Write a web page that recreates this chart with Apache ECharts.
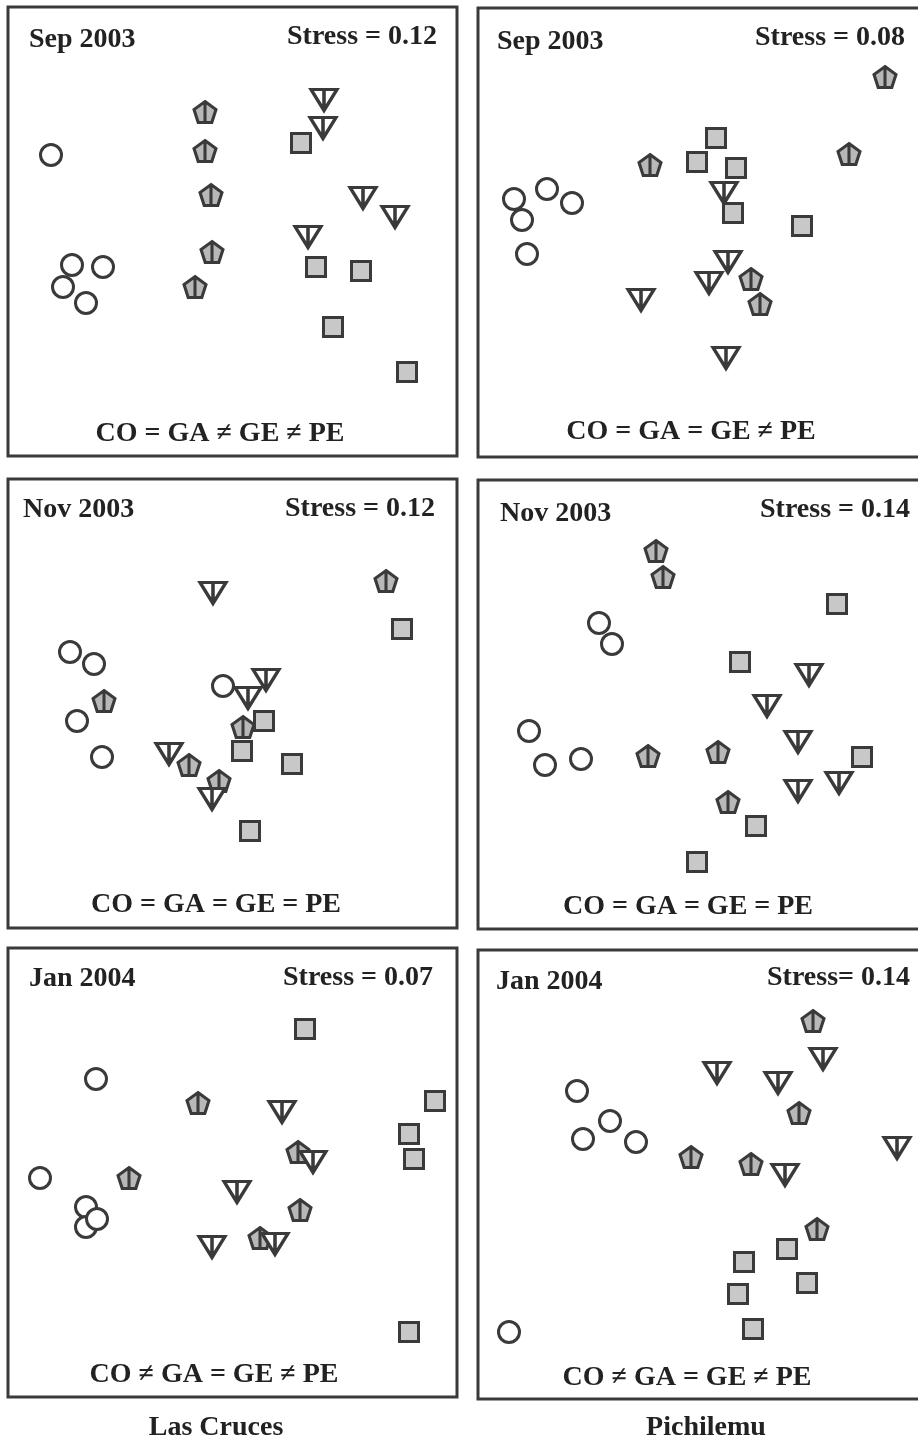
<!DOCTYPE html>
<html><head><meta charset="utf-8">
<script src="https://cdn.jsdelivr.net/npm/echarts@6/dist/echarts.min.js"></script>
<style>html,body{margin:0;padding:0;background:#fff;overflow:hidden}#c{width:932px;height:1440px}</style>
</head><body><div id="c"></div><script>
// NMDS ordination coordinates (panel units, x right, y down)
// Las Cruces, Sep 2003
const lcSepCircles   = [[43,148],[64,258],[95,260],[55,280],[78,296]];
const lcSepPentagons = [[197,105],[197,144],[203,188],[204,245],[187,280]];
const lcSepTriangles = [[316,93],[315,121],[355,191],[387,210],[300,230]];
const lcSepSquares   = [[293,136],[308,260],[353,264],[325,320],[399,365]];
// Pichilemu, Sep 2003
const piSepCircles   = [[36,191],[69,181],[94,195],[44,212],[49,246]];
const piSepPentagons = [[407,69],[371,146],[172,157],[273,271],[282,296]];
const piSepTriangles = [[246,185],[250,254],[231,275],[163,292],[248,350]];
const piSepSquares   = [[238,130],[219,154],[258,160],[255,205],[324,218]];
// Las Cruces, Nov 2003
const lcNovCircles   = [[62,173],[86,185],[69,242],[94,278],[215,207]];
const lcNovPentagons = [[378,102],[96,222],[235,248],[181,286],[211,302]];
const lcNovTriangles = [[205,114],[258,201],[240,219],[161,275],[204,320]];
const lcNovSquares   = [[394,150],[256,242],[234,272],[284,285],[242,352]];
// Pichilemu, Nov 2003
const piNovCircles   = [[121,143],[134,164],[51,251],[67,285],[103,279]];
const piNovPentagons = [[178,71],[185,97],[170,276],[240,272],[250,322]];
const piNovTriangles = [[331,195],[289,226],[320,262],[361,303],[320,311]];
const piNovSquares   = [[359,124],[262,182],[384,277],[278,346],[219,382]];
// Las Cruces, Jan 2004
const lcJanCircles   = [[88,131],[32,230],[78,259],[78,279],[89,271]];
const lcJanPentagons = [[190,155],[121,230],[290,204],[292,262],[252,290]];
const lcJanTriangles = [[274,164],[305,214],[229,244],[204,299],[267,296]];
const lcJanSquares   = [[297,81],[427,153],[401,186],[406,211],[401,384]];
// Pichilemu, Jan 2004
const piJanCircles   = [[99,141],[132,171],[105,189],[158,192],[31,382]];
const piJanPentagons = [[335,71],[321,163],[213,207],[273,214],[339,279]];
const piJanTriangles = [[239,123],[345,109],[300,133],[307,225],[419,198]];
const piJanSquares   = [[309,299],[266,312],[329,333],[260,344],[275,379]];

const dateLabels   = ['Sep 2003','Sep 2003','Nov 2003','Nov 2003','Jan 2004','Jan 2004'];
const stressLabels = ['Stress = 0.12','Stress = 0.08','Stress = 0.12','Stress = 0.14','Stress = 0.07','Stress= 0.14'];
const testLabels   = ['CO = GA \u2260 GE \u2260 PE','CO = GA = GE \u2260 PE','CO = GA = GE = PE','CO = GA = GE = PE','CO \u2260 GA = GE \u2260 PE','CO \u2260 GA = GE \u2260 PE'];
const siteLabels   = ['Las Cruces','Pichilemu'];

const panelData = [
  [lcSepCircles, lcSepPentagons, lcSepTriangles, lcSepSquares],
  [piSepCircles, piSepPentagons, piSepTriangles, piSepSquares],
  [lcNovCircles, lcNovPentagons, lcNovTriangles, lcNovSquares],
  [piNovCircles, piNovPentagons, piNovTriangles, piNovSquares],
  [lcJanCircles, lcJanPentagons, lcJanTriangles, lcJanSquares],
  [piJanCircles, piJanPentagons, piJanTriangles, piJanSquares]
];

// layout (pixels)
const PW = 449, PH = 449;
const layout = [
  {left:8,   top:7,   dx:21, dy:33, sx:429, sy:30, tx:212, ty:427},
  {left:478, top:8,   dx:19, dy:34, sx:427, sy:30, tx:213, ty:424},
  {left:8,   top:479, dx:15, dy:31, sx:427, sy:30, tx:208, ty:426},
  {left:478, top:480, dx:22, dy:34, sx:432, sy:30, tx:210, ty:427},
  {left:8,   top:948, dx:21, dy:31, sx:425, sy:30, tx:206, ty:427},
  {left:478, top:950, dx:18, dy:32, sx:432, sy:28, tx:209, ty:428}
];

const INK = '#3a3a3a';
const FONT = '"Liberation Serif","Times New Roman",serif';
const pentPath = 'path://M50,0 L100,36.3 L80.9,95.1 L19.1,95.1 L0,36.3 Z M50,0 L50,95.1';
const triPath  = 'path://M0,0 L100,0 L50,86 Z M50,0 L50,86';
const styles = [
  {name:'CO', symbol:'circle', size:21, item:{color:'#ffffff', borderColor:INK, borderWidth:3, opacity:1}},
  {name:'GA', symbol:pentPath, size:[22,21], item:{color:'#b8b8b8', borderColor:INK, borderWidth:3, opacity:1}},
  {name:'GE', symbol:triPath,  size:[26,21], item:{color:'#ffffff', borderColor:INK, borderWidth:3.2, opacity:1}},
  {name:'PE', symbol:'rect',   size:19, item:{color:'#c8c8c8', borderColor:INK, borderWidth:3, opacity:1}}
];

const grid = [], xAxis = [], yAxis = [], series = [], graphic = [];
layout.forEach((L, i) => {
  grid.push({left:L.left, top:L.top, width:PW, height:PH, show:true,
             borderColor:INK, borderWidth:3, backgroundColor:'transparent', containLabel:false});
  xAxis.push({type:'value', gridIndex:i, min:0, max:PW, show:false});
  yAxis.push({type:'value', gridIndex:i, min:0, max:PH, inverse:true, show:false});
  [3,1,2,0].forEach(g => {
    const s = styles[g];
    series.push({type:'scatter', name:s.name, xAxisIndex:i, yAxisIndex:i,
      symbol:s.symbol, symbolSize:s.size, symbolKeepAspect:false,
      itemStyle:s.item, emphasis:{disabled:true}, silent:true,
      data:panelData[i][g]});
  });
  const tstyle = {fill:'#222', font:'bold 28px ' + FONT, textVerticalAlign:'middle'};
  graphic.push({type:'text', x:L.left + L.dx, y:L.top + L.dy,
    style:Object.assign({text:dateLabels[i], textAlign:'left'}, tstyle)});
  graphic.push({type:'text', x:L.left + L.sx, y:L.top + L.sy,
    style:Object.assign({text:stressLabels[i], textAlign:'right'}, tstyle)});
  graphic.push({type:'text', x:L.left + L.tx, y:L.top + L.ty,
    style:Object.assign({text:testLabels[i], textAlign:'center'}, tstyle)});
});
graphic.push({type:'text', x:216, y:1428,
  style:{text:siteLabels[0], textAlign:'center', textVerticalAlign:'middle', fill:'#222', font:'bold 28px ' + FONT}});
graphic.push({type:'text', x:706, y:1428,
  style:{text:siteLabels[1], textAlign:'center', textVerticalAlign:'middle', fill:'#222', font:'bold 28px ' + FONT}});

const chart = echarts.init(document.getElementById('c'), null, {renderer:'canvas'});
chart.setOption({animation:false, backgroundColor:'#ffffff', grid, xAxis, yAxis, series, graphic});
</script></body></html>
